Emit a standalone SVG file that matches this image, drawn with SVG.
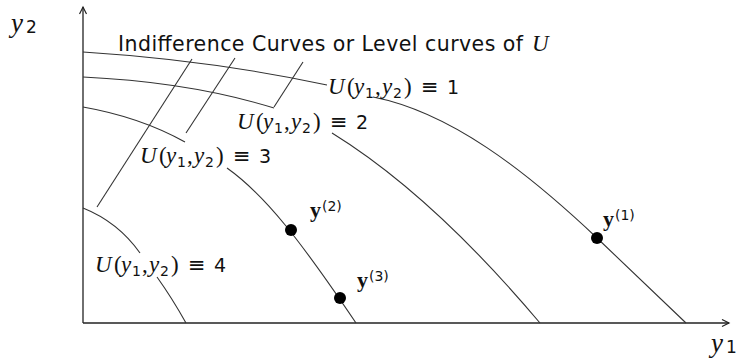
<svg xmlns="http://www.w3.org/2000/svg" width="740" height="362" viewBox="0 0 740 362">
<style>
.ax{fill:none;stroke:#222;stroke-width:1.3}
.cv{fill:none;stroke:#333;stroke-width:1.1}
.ld{fill:none;stroke:#333;stroke-width:1.1}
.dot{fill:#000}
.t{font-family:"DejaVu Sans",Verdana,sans-serif;font-size:20.5px;fill:#111}
.m{font-family:"Liberation Serif","Times New Roman",serif;font-size:23px;fill:#111}
.mi{font-style:italic}
.sub{font-family:"DejaVu Sans",sans-serif;font-size:14px;font-style:normal}
.sym{font-family:"DejaVu Sans",sans-serif;font-size:21px}
.num{font-family:"DejaVu Sans",sans-serif;font-size:19px}
.by{font-family:"Liberation Serif","Times New Roman",serif;font-weight:bold;font-size:22px;fill:#111}
.sup{font-family:"DejaVu Sans",sans-serif;font-size:14px;fill:#111}
.axl{font-family:"Liberation Serif","Times New Roman",serif;font-style:italic;font-size:27px;fill:#111}
.axn{font-family:"DejaVu Sans",sans-serif;font-size:17px;fill:#111}
</style>
<defs>
<marker id="arr" markerWidth="10" markerHeight="10" refX="8" refY="4" orient="auto" markerUnits="userSpaceOnUse">
<path d="M1,0.5 L8,4 L1,7.5" fill="none" stroke="#222" stroke-width="1.2"/>
</marker>
</defs>

<g id="axes">
<line class="ax" x1="83" y1="323" x2="83" y2="7" marker-end="url(#arr)"/>
<line class="ax" x1="83" y1="323" x2="729" y2="323" marker-end="url(#arr)"/>
<text id="axis-y2" x="11" y="32"><tspan class="axl">y</tspan><tspan class="axn" x="26" y="33">2</tspan></text>
<text id="axis-y1" x="711" y="352"><tspan class="axl">y</tspan><tspan class="axn" x="726" y="353">1</tspan></text>
</g>

<g id="connectors">
<path class="cv" d="M83,52 Q210,60 327,85"/>
<path class="cv" d="M373,97 C450,112 525,170 597,238 L686,323"/>
<path class="cv" d="M83,77 Q190,82 274,108"/>
<path class="cv" d="M332,133 C400,175 470,240 540,323"/>
<path class="cv" d="M83,107 Q140,117 185,142"/>
<path class="cv" d="M227,168 C265,195 300,240 356,323"/>
<path class="cv" d="M83,208 Q118,222 140,253"/>
<path class="cv" d="M157,277 Q172,298 186,323"/>
<line class="ld" x1="192" y1="59" x2="97" y2="207"/>
<line class="ld" x1="235" y1="58" x2="186" y2="133"/>
<line class="ld" x1="303" y1="62" x2="274" y2="107"/>
</g>

<g id="title">
<text class="t" x="118" y="51" textLength="405" lengthAdjust="spacing">Indifference Curves or Level curves of</text>
<text class="m mi" x="532" y="51">U</text>
</g>

<g id="label-u1" transform="translate(328,94)">
<text class="m"><tspan class="mi" x="0">U</tspan><tspan x="19">(</tspan><tspan class="mi" x="26">y</tspan><tspan class="sub" x="37" dy="4">1</tspan><tspan x="47" dy="-4">,</tspan><tspan class="mi" x="54">y</tspan><tspan class="sub" x="65" dy="4">2</tspan><tspan x="76" dy="-4">)</tspan><tspan class="sym" x="93">≡</tspan><tspan class="num" x="119">1</tspan></text>
</g>
<g id="label-u2" transform="translate(237,129)">
<text class="m"><tspan class="mi" x="0">U</tspan><tspan x="19">(</tspan><tspan class="mi" x="26">y</tspan><tspan class="sub" x="37" dy="4">1</tspan><tspan x="47" dy="-4">,</tspan><tspan class="mi" x="54">y</tspan><tspan class="sub" x="65" dy="4">2</tspan><tspan x="76" dy="-4">)</tspan><tspan class="sym" x="93">≡</tspan><tspan class="num" x="119">2</tspan></text>
</g>
<g id="label-u3" transform="translate(140,163)">
<text class="m"><tspan class="mi" x="0">U</tspan><tspan x="19">(</tspan><tspan class="mi" x="26">y</tspan><tspan class="sub" x="37" dy="4">1</tspan><tspan x="47" dy="-4">,</tspan><tspan class="mi" x="54">y</tspan><tspan class="sub" x="65" dy="4">2</tspan><tspan x="76" dy="-4">)</tspan><tspan class="sym" x="93">≡</tspan><tspan class="num" x="119">3</tspan></text>
</g>
<g id="label-u4" transform="translate(95,272)">
<text class="m"><tspan class="mi" x="0">U</tspan><tspan x="19">(</tspan><tspan class="mi" x="26">y</tspan><tspan class="sub" x="37" dy="4">1</tspan><tspan x="47" dy="-4">,</tspan><tspan class="mi" x="54">y</tspan><tspan class="sub" x="65" dy="4">2</tspan><tspan x="76" dy="-4">)</tspan><tspan class="sym" x="93">≡</tspan><tspan class="num" x="119">4</tspan></text>
</g>

<g id="point-y1">
<circle class="dot" cx="597" cy="238" r="6"/>
<text x="603" y="226"><tspan class="by">y</tspan><tspan class="sup" x="615" y="220">(1)</tspan></text>
</g>
<g id="point-y2">
<circle class="dot" cx="291" cy="230" r="6"/>
<text x="310" y="217"><tspan class="by">y</tspan><tspan class="sup" x="322" y="211">(2)</tspan></text>
</g>
<g id="point-y3">
<circle class="dot" cx="340" cy="298" r="6"/>
<text x="357" y="287"><tspan class="by">y</tspan><tspan class="sup" x="369" y="281">(3)</tspan></text>
</g>
</svg>
